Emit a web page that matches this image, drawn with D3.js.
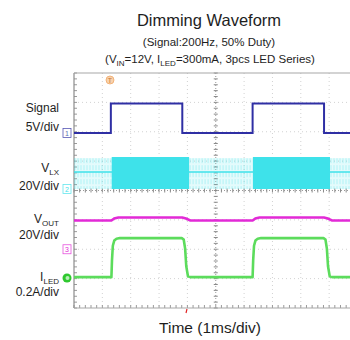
<!DOCTYPE html>
<html>
<head>
<meta charset="utf-8">
<script src="https://cdn.jsdelivr.net/npm/d3@7/dist/d3.min.js"></script>
<style>
  html, body { margin: 0; padding: 0; background: #fff; }
  svg { display: block; font-family: "Liberation Sans", Arial, sans-serif; }
</style>
</head>
<body>
<svg id="chart" width="350" height="340"></svg>
<script>
// ---- data: scope traces, time in ms ----
const signalTime  = [0, 1.3, 1.3, 3.82, 3.82, 6.3, 6.3, 8.82, 8.82, 10];
const signalVolts = [0, 0, 5, 5, 0, 0, 5, 5, 0, 0];

const vlxBurstStart = [1.33, 6.31];
const vlxBurstEnd   = [4.06, 9.03];
const vlxBurstHigh  = 21.8;   // V, switching peak
const vlxIdleVolts  = 11.6;   // V, level between bursts
const vlxRingHigh   = 21.0;   // V, ringing envelope between bursts

const voutTime  = [0, 1.32, 1.42, 1.56, 3.82, 3.95, 4.1, 6.3, 6.4, 6.54, 8.82, 8.95, 9.1, 10];
const voutVolts = [19.6, 19.6, 21.0, 21.6, 21.6, 20.9, 19.6, 19.6, 21.0, 21.6, 21.6, 20.9, 19.6, 19.6];

const iledTime = [0, 1.32, 1.34, 1.37, 1.42, 1.5, 1.62, 3.8, 3.87, 3.92, 3.96, 4.02, 4.12,
                  6.3, 6.32, 6.35, 6.4, 6.48, 6.6, 8.8, 8.87, 8.92, 8.96, 9.02, 9.12, 10];
const iledAmps = [0.006, 0.006, 0.12, 0.22, 0.255, 0.267, 0.272, 0.272, 0.262, 0.2, 0.08, 0.012, 0.006,
                  0.006, 0.12, 0.22, 0.255, 0.267, 0.272, 0.272, 0.262, 0.2, 0.08, 0.012, 0.006, 0.006];

// ---- labels ----
const channelNames  = ["Signal", "V|LX", "V|OUT", "I|LED"];
const channelScales = ["5V/div", "20V/div", "20V/div", "0.2A/div"];
const channelIds    = ["1", "2", "3", "4"];
const titleText     = "Dimming Waveform";
const subtitleText  = "(Signal:200Hz, 50% Duty)";
const conditionText = [["(V", ""], ["IN", "sub"], ["=12V, I", ""], ["LED", "sub"], ["=300mA, 3pcs LED Series)", ""]];
const xAxisText     = "Time (1ms/div)";

// ---- scope settings ----
const voltsPerDiv = [5, 20, 20, 0.2];
const groundDiv   = [2.04, 3.95, 6.0, 6.98];
const colors      = ["#2f2fa4", "#3ee2ea", "#e22ad6", "#5cdc5c"];

const svg = d3.select("#chart");
const x = d3.scaleLinear().domain([0, 10]).range([74, 357.5]);
const y = d3.scaleLinear().domain([0, 8]).range([73, 308]);
const chY = (ch, v) => y(groundDiv[ch] - v / voltsPerDiv[ch]);

svg.append("defs").append("clipPath").attr("id", "plot")
  .append("rect").attr("x", x(0)).attr("y", y(0)).attr("width", x(10) - x(0)).attr("height", y(8) - y(0));

// ---- graticule ----
const grid = svg.append("g");
const divX = [1, 2, 3, 4, 6, 7, 8, 9];
const divY = [1, 2, 3, 5, 6, 7];
grid.selectAll(".gx").data(divX).join("line")
  .attr("x1", d => x(d)).attr("x2", d => x(d)).attr("y1", y(0)).attr("y2", y(8))
  .attr("stroke", "#d2d2d2").attr("stroke-width", 1).attr("stroke-dasharray", "1,3");
grid.selectAll(".gy").data(divY).join("line")
  .attr("x1", x(0)).attr("x2", 350).attr("y1", d => y(d)).attr("y2", d => y(d))
  .attr("stroke", "#d2d2d2").attr("stroke-width", 1).attr("stroke-dasharray", "1,3");

// centre cross with minor ticks
grid.append("line").attr("x1", x(5)).attr("x2", x(5)).attr("y1", y(0)).attr("y2", y(8))
  .attr("stroke", "#9a9a9a").attr("stroke-dasharray", "1,2");
grid.append("line").attr("x1", x(0)).attr("x2", 350).attr("y1", y(4)).attr("y2", y(4))
  .attr("stroke", "#9a9a9a").attr("stroke-dasharray", "1,2");
const minorY = d3.range(0, 8.01, 0.2);
const minorX = d3.range(0, 10.01, 0.2);
grid.selectAll(".ty").data(minorY).join("line")
  .attr("x1", x(5) - 2).attr("x2", x(5) + 2).attr("y1", d => y(d)).attr("y2", d => y(d))
  .attr("stroke", "#8a8a8a");
grid.selectAll(".tx").data(minorX).join("line")
  .attr("x1", d => x(d)).attr("x2", d => x(d)).attr("y1", y(4) - 2).attr("y2", y(4) + 2)
  .attr("stroke", "#8a8a8a");
// left edge ticks
grid.selectAll(".tl").data(minorY).join("line")
  .attr("x1", x(0)).attr("x2", x(0) + 3).attr("y1", d => y(d)).attr("y2", d => y(d))
  .attr("stroke", "#9a9a9a");
grid.selectAll(".tb").data(minorX).join("line")
  .attr("x1", d => x(d)).attr("x2", d => x(d)).attr("y1", y(8) - 3).attr("y2", y(8))
  .attr("stroke", "#9a9a9a");

// frame
grid.append("line").attr("x1", x(0)).attr("x2", x(0)).attr("y1", y(0)).attr("y2", y(8))
  .attr("stroke", "#8c8c8c").attr("stroke-width", 1.2);
grid.append("line").attr("x1", x(0)).attr("x2", 350).attr("y1", y(0)).attr("y2", y(0))
  .attr("stroke", "#a8a8a8").attr("stroke-width", 1.2);
grid.append("line").attr("x1", x(0)).attr("x2", 350).attr("y1", y(8)).attr("y2", y(8))
  .attr("stroke", "#a8a8a8").attr("stroke-width", 1.2);

const traces = svg.append("g").attr("clip-path", "url(#plot)");

// ---- V_LX: ringing between bursts, idle level, switching bursts ----
const offStart = [0].concat(vlxBurstEnd);
const offEnd = vlxBurstStart.concat([10]);
const ring = traces.append("g");
offStart.forEach((s, i) => {
  ring.append("rect")
    .attr("x", x(s)).attr("width", x(offEnd[i]) - x(s))
    .attr("y", chY(1, vlxRingHigh)).attr("height", chY(1, 0) - chY(1, vlxRingHigh))
    .attr("fill", colors[1]).attr("opacity", 0.14);
  const stripes = d3.range(x(s) + 1, x(offEnd[i]), 3);
  ring.selectAll(null).data(stripes).join("line")
    .attr("x1", d => d).attr("x2", d => d)
    .attr("y1", chY(1, vlxRingHigh)).attr("y2", chY(1, 0))
    .attr("stroke", colors[1]).attr("stroke-width", 1).attr("opacity", 0.3)
    .attr("stroke-dasharray", "5,2");
});
traces.append("line")
  .attr("x1", x(0)).attr("x2", x(10))
  .attr("y1", chY(1, vlxIdleVolts)).attr("y2", chY(1, vlxIdleVolts))
  .attr("stroke", colors[1]).attr("stroke-width", 1.6);
traces.selectAll(".burst").data(vlxBurstStart).join("rect")
  .attr("x", d => x(d)).attr("width", (d, i) => x(vlxBurstEnd[i]) - x(d))
  .attr("y", chY(1, vlxBurstHigh)).attr("height", chY(1, 0) - chY(1, vlxBurstHigh))
  .attr("fill", colors[1]);

// ---- Signal, V_OUT, I_LED ----
const line = d3.line().x(d => x(d[0])).y(d => d[1]);
traces.append("path")
  .datum(signalTime.map((t, i) => [t, chY(0, signalVolts[i])]))
  .attr("d", line).attr("fill", "none").attr("stroke", colors[0]).attr("stroke-width", 2);
traces.append("path")
  .datum(voutTime.map((t, i) => [t, chY(2, voutVolts[i])]))
  .attr("d", line).attr("fill", "none").attr("stroke", colors[2]).attr("stroke-width", 2.6);
traces.append("path")
  .datum(iledTime.map((t, i) => [t, chY(3, iledAmps[i])]))
  .attr("d", line).attr("fill", "none").attr("stroke", colors[3]).attr("stroke-width", 2.6)
  .attr("stroke-linejoin", "round");

// ---- channel ground markers ----
const markers = svg.append("g");
[0, 1, 2].forEach(ch => {
  const cy = y(groundDiv[ch]);
  markers.append("rect").attr("x", 63).attr("y", cy - 4.5).attr("width", 8).attr("height", 9)
    .attr("fill", "#fff").attr("stroke", colors[ch]).attr("stroke-width", 0.8).attr("opacity", 0.8);
  markers.append("text").attr("x", 67).attr("y", cy + 3).attr("text-anchor", "middle")
    .attr("font-size", 7).attr("fill", ch === 0 ? "#6070b0" : colors[ch]).text(channelIds[ch]);
});
markers.append("circle").attr("cx", 67).attr("cy", y(groundDiv[3])).attr("r", 4.5)
  .attr("fill", "#2fc82f");
markers.append("circle").attr("cx", 67.5).attr("cy", y(groundDiv[3])).attr("r", 2)
  .attr("fill", "#b8f0b8");

// trigger marker and horizontal position marker
svg.append("circle").attr("cx", x(1.27)).attr("cy", 80).attr("r", 4)
  .attr("fill", "#f8d2ac").attr("stroke", "#f0a868").attr("stroke-width", 0.8);
svg.append("text").attr("x", x(1.27)).attr("y", 83).attr("text-anchor", "middle")
  .attr("font-size", 7).attr("fill", "#c8783a").text("T");
svg.append("line").attr("x1", 187).attr("x2", 186).attr("y1", 309).attr("y2", 313)
  .attr("stroke", "#e02020").attr("stroke-width", 1.2);

// ---- channel labels ----
const labelY = [[111.5, 130.5], [171.5, 190], [222.5, 238.5], [280.5, 295.5]];
const labels = svg.append("g").attr("fill", "#1e1e1e").attr("font-size", 12)
  .attr("text-anchor", "end");
channelNames.forEach((name, i) => {
  const [main, sub] = name.split("|");
  const t = labels.append("text").attr("x", 59).attr("y", labelY[i][0]);
  t.append("tspan").text(main);
  if (sub) t.append("tspan").attr("font-size", 8).attr("dy", 3).text(sub);
  labels.append("text").attr("x", 59).attr("y", labelY[i][1]).text(channelScales[i]);
});

// ---- titles ----
svg.append("text").attr("x", 209).attr("y", 26).attr("text-anchor", "middle")
  .attr("font-size", 16.5).attr("fill", "#1e1e1e").text(titleText);
svg.append("text").attr("x", 209).attr("y", 46).attr("text-anchor", "middle")
  .attr("font-size", 11.5).attr("fill", "#1e1e1e").text(subtitleText);
const cond = svg.append("text").attr("x", 210).attr("y", 63).attr("text-anchor", "middle")
  .attr("font-size", 11.5).attr("fill", "#1e1e1e");
conditionText.forEach(([s, kind], i) => {
  const ts = cond.append("tspan").text(s);
  if (kind === "sub") ts.attr("font-size", 8).attr("dy", 2.5);
  else if (i > 0 && conditionText[i - 1][1] === "sub") ts.attr("dy", -2.5);
});
svg.append("text").attr("x", 210).attr("y", 333).attr("text-anchor", "middle")
  .attr("font-size", 15.5).attr("fill", "#1e1e1e").text(xAxisText);
</script>
</body>
</html>
